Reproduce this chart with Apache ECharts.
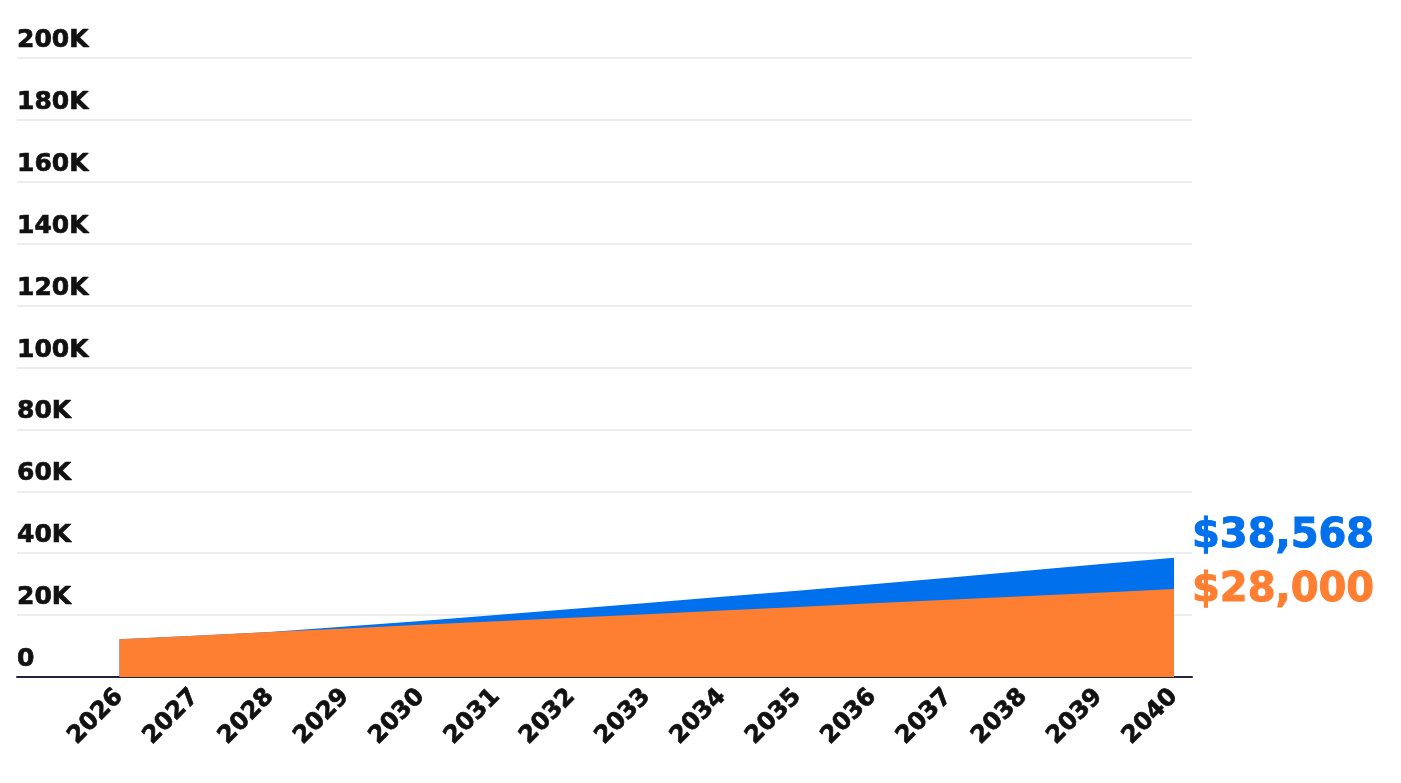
<!DOCTYPE html>
<html>
<head>
<meta charset="utf-8">
<script src="https://cdn.jsdelivr.net/npm/echarts@6/dist/echarts.min.js"></script>
<style>
html,body{margin:0;padding:0;background:#fff;}
#chart{width:1401px;height:783px;}
</style>
</head>
<body>
<div id="chart"></div>
<script>
const years = ['2026','2027','2028','2029','2030','2031','2032','2033','2034','2035','2036','2037','2038','2039','2040'];
const blueValues = [12200, 13350, 14550, 16300, 18100, 20000, 21950, 23900, 25900, 27850, 29950, 32100, 34250, 36400, 38568];
const orangeValues = [12200, 13350, 14500, 15700, 16850, 18000, 19150, 20300, 21450, 22650, 23800, 24950, 26100, 27250, 28400];
const endLabels = { blue: '$38,568', orange: '$28,000' };
const yMax = 200000;
const yStep = 20000;

const FONT = '"DejaVu Sans"';
const BLUE = '#0070EC';
const ORANGE = '#FE7F31';
const INK = '#111111';

const chart = echarts.init(document.getElementById('chart'));
chart.setOption({
  animation: false,
  grid: [
    { left: 17, right: 209, top: 58, bottom: 106 },
    { left: 119.5, right: 227, top: 58, bottom: 106 }
  ],
  xAxis: [
    { gridIndex: 0, type: 'value', min: 0, max: 1,
      axisLine: { show: true, lineStyle: { color: '#23233d', width: 2 } },
      axisTick: { show: false }, axisLabel: { show: false }, splitLine: { show: false } },
    { gridIndex: 1, type: 'category', data: years, boundaryGap: false,
      axisLine: { show: false }, axisTick: { show: false }, splitLine: { show: false },
      axisLabel: { rotate: 45, margin: 16, color: INK, fontFamily: FONT, fontWeight: 'bold', fontSize: 24, interval: 0,
        textBorderColor: INK, textBorderWidth: 0.7 } }
  ],
  yAxis: [
    { gridIndex: 0, type: 'value', min: 0, max: yMax, interval: yStep,
      axisLine: { show: false }, axisTick: { show: false },
      splitLine: { show: true, lineStyle: { color: '#ededed', width: 2 } },
      axisLabel: { inside: true, margin: 0, verticalAlign: 'bottom', padding: [0, 0, 5, 0],
        color: INK, fontFamily: FONT, fontWeight: 'bold', fontSize: 25,
        textBorderColor: INK, textBorderWidth: 0.7,
        formatter: v => v === 0 ? '0' : (v / 1000) + 'K' } },
    { gridIndex: 1, type: 'value', min: 0, max: yMax, interval: yStep, show: false }
  ],
  series: [
    { type: 'line', xAxisIndex: 1, yAxisIndex: 1, data: blueValues, symbol: 'none',
      lineStyle: { width: 0 }, areaStyle: { color: BLUE, opacity: 1 }, z: 2,
      endLabel: { show: true, formatter: () => endLabels.blue, color: BLUE, fontFamily: FONT,
        fontWeight: 'bold', fontSize: 40, offset: [10, -21],
        textBorderColor: BLUE, textBorderWidth: 1 } },
    { type: 'line', xAxisIndex: 1, yAxisIndex: 1, data: orangeValues, symbol: 'none',
      lineStyle: { width: 0 }, areaStyle: { color: ORANGE, opacity: 1 }, z: 3,
      endLabel: { show: true, formatter: () => endLabels.orange, color: ORANGE, fontFamily: FONT,
        fontWeight: 'bold', fontSize: 40, offset: [10, 2],
        textBorderColor: ORANGE, textBorderWidth: 1 } }
  ]
});
</script>
</body>
</html>
